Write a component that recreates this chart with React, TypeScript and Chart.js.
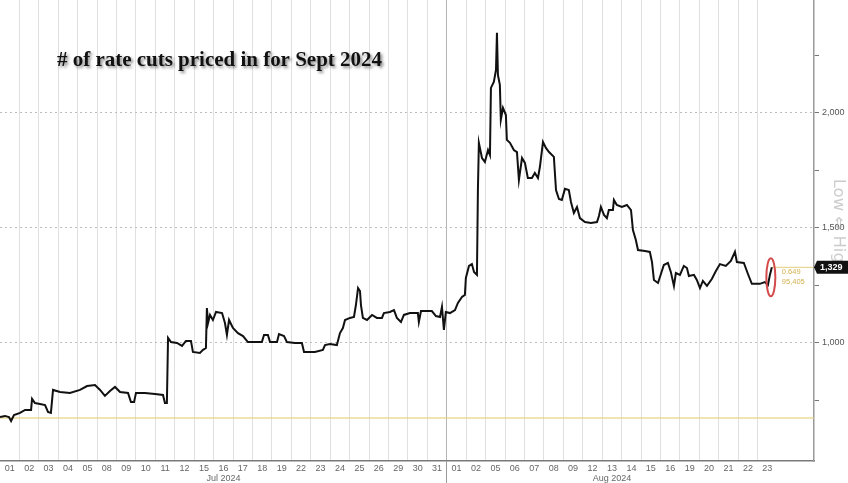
import { useEffect, useRef } from "react";
import { Chart, registerables } from "chart.js";

Chart.register(...registerables);

// ---- data ----
const dayLabels = ["01","02","03","04","05","08","09","10","11","12","15","16","17","18","19","22","23","24","25","26","29","30","31","01","02","05","06","07","08","09","12","13","14","15","16","19","20","21","22","23"];
const monthLabels = ["Jul 2024", "Aug 2024"];
const monthCenters = [11.5, 31.5]; // in trading days
const monthBoundary = 23; // trading day where August starts
const axisEnd = 41.9;
const yTicks = [0.75, 1, 1.25, 1.5, 1.75, 2, 2.25];
const yMajor = [1, 1.5, 2];
const yMin = 0.487;
const yMax = 2.491;

// time in trading days since 1 Jul 2024
const tradingTime = [
  0.00,0.26,0.46,0.57,0.72,1.03,1.29,1.60,1.65,1.80,2.06,2.32,2.47,2.62,2.73,3.09,3.60,4.12,4.48,4.89,5.15,5.40,5.66,5.92,6.18,6.59,6.74,6.90,7.00,7.46,7.98,8.39,8.49,8.59,
  8.65,8.80,9.11,9.37,9.57,9.83,9.93,10.29,10.45,10.60,10.65,10.71,10.81,10.96,11.12,11.43,11.58,11.68,11.79,11.99,12.25,12.51,12.76,13.12,13.48,13.59,13.79,13.90,14.26,14.36,14.62,14.77,15.18,15.54,15.65,16.21,
  16.62,16.73,16.98,17.34,17.50,17.65,17.76,18.01,18.22,18.32,18.43,18.53,18.58,18.68,18.89,19.15,19.40,19.66,19.76,20.07,20.28,20.43,20.64,20.79,21.10,21.51,21.56,21.67,22.23,22.44,22.65,22.75,22.85,22.95,23.16,23.42,23.57,23.78,23.93,
  23.98,24.14,24.29,24.40,24.55,24.60,24.65,24.81,24.96,25.12,25.22,25.27,25.42,25.53,25.58,25.63,25.73,25.78,25.89,26.04,26.09,26.25,26.45,26.61,26.71,26.87,27.02,27.17,27.38,27.53,27.69,27.79,27.95,28.10,28.26,28.51,
  28.62,28.77,28.92,29.08,29.28,29.39,29.54,29.70,29.85,30.11,30.42,30.73,30.83,30.93,31.09,31.24,31.34,31.55,31.60,31.75,32.01,32.27,32.48,32.58,32.73,32.84,33.20,33.45,33.56,33.66,33.87,34.02,34.17,34.38,34.53,34.69,34.79,35.00,
  35.20,35.36,35.46,35.72,35.87,36.03,36.18,36.39,36.64,36.85,37.06,37.36,37.62,37.83,37.93,38.29,38.50,38.70,39.11,39.37,39.53,39.63,39.73
];

// number of rate cuts priced in for Sept 2024
const cutsPriced = [
  0.678,0.683,0.678,0.661,0.687,0.696,0.709,0.709,0.757,0.739,0.735,0.730,0.700,0.696,0.796,0.787,0.783,0.796,0.813,0.817,0.796,0.770,0.791,0.809,0.787,0.783,0.743,0.743,0.783,0.783,0.778,0.774,0.739,0.739,
  1.022,1.004,1.000,0.987,1.009,1.009,0.961,0.957,0.970,0.978,1.152,1.087,1.122,1.100,1.135,1.130,1.087,1.035,1.100,1.065,1.043,1.030,1.004,1.004,1.004,1.035,1.035,1.004,1.004,1.039,1.030,1.004,1.000,1.000,0.961,0.961,
  0.970,0.991,0.996,0.991,1.043,1.065,1.100,1.109,1.113,1.165,1.239,1.226,1.165,1.109,1.100,1.122,1.109,1.109,1.130,1.135,1.143,1.109,1.091,1.122,1.130,1.130,1.091,1.139,1.139,1.117,1.113,1.157,1.057,1.135,1.130,1.143,1.174,1.200,1.209,
  1.283,1.335,1.343,1.309,1.296,1.665,1.870,1.804,1.787,1.839,1.817,2.109,2.135,2.187,2.348,2.165,2.122,1.970,2.022,1.991,1.883,1.870,1.839,1.830,1.709,1.804,1.783,1.717,1.717,1.739,1.717,1.765,1.874,1.848,1.830,1.809,
  1.665,1.626,1.622,1.670,1.665,1.613,1.565,1.591,1.543,1.526,1.522,1.526,1.552,1.591,1.557,1.543,1.578,1.578,1.622,1.600,1.591,1.600,1.578,1.491,1.448,1.404,1.400,1.396,1.352,1.274,1.261,1.300,1.339,1.348,1.309,1.248,1.304,1.296,
  1.335,1.326,1.291,1.296,1.274,1.239,1.270,1.248,1.278,1.313,1.343,1.335,1.357,1.396,1.352,1.348,1.300,1.257,1.257,1.265,1.252,1.296,1.329
];

const lastValue = 1.329;
const lastValueLabel = "1,329";
const referenceLevel = 0.674;
const sideNotes = ["0.649", "95,405"];
const axisNote = "Low \u21D4 High";
const titleText = "# of rate cuts priced in for Sept 2024";

const fmt = (v: number) => v.toFixed(3).replace(".", ",");

const overlayPlugin = {
  id: "overlay",
  afterDraw(chart: any) {
    const { ctx } = chart;
    const xs = chart.scales.x;
    const ys = chart.scales.y;
    const area = chart.chartArea;

    // title
    ctx.save();
    ctx.font = 'bold 20px "Liberation Serif", serif';
    const w = ctx.measureText(titleText).width;
    const size = (20 * 325) / w;
    ctx.font = `bold ${size.toFixed(2)}px "Liberation Serif", serif`;
    ctx.fillStyle = "#111";
    ctx.textBaseline = "alphabetic";
    ctx.textAlign = "left";
    ctx.shadowColor = "rgba(0,0,0,0.45)";
    ctx.shadowBlur = 3;
    ctx.shadowOffsetX = 2;
    ctx.shadowOffsetY = 2;
    ctx.fillText(titleText, 57, 66);
    ctx.restore();

    const lastT = tradingTime[tradingTime.length - 1];
    const px = xs.getPixelForValue(lastT);
    const py = ys.getPixelForValue(lastValue);

    // rotated axis note (drawn beneath the value box)
    ctx.save();
    ctx.translate(838, 226);
    ctx.rotate(Math.PI / 2);
    ctx.font = '16.5px "DejaVu Sans", sans-serif';
    ctx.fillStyle = "rgba(170,170,170,0.6)";
    ctx.textAlign = "center";
    ctx.textBaseline = "middle";
    ctx.fillText(axisNote, 0, 0);
    ctx.restore();

    // red ellipse
    ctx.save();
    ctx.strokeStyle = "#d24a4a";
    ctx.lineWidth = 2;
    ctx.beginPath();
    ctx.ellipse(px - 1, py + 10, 4.5, 19, 0, 0, Math.PI * 2);
    ctx.stroke();
    ctx.restore();

    // yellow notes
    ctx.save();
    ctx.font = '7.5px "Liberation Sans", sans-serif';
    ctx.fillStyle = "#d4b24e";
    ctx.textAlign = "left";
    ctx.textBaseline = "middle";
    ctx.fillText(sideNotes[0], px + 10, py + 5);
    ctx.fillText(sideNotes[1], px + 10, py + 15);
    ctx.restore();

    // last value box
    ctx.save();
    const bx = area.right + 3;
    const bw = 34;
    const bh = 13;
    ctx.fillStyle = "#111";
    ctx.beginPath();
    ctx.moveTo(area.right, py);
    ctx.lineTo(bx, py - bh / 2);
    ctx.lineTo(bx + bw, py - bh / 2);
    ctx.lineTo(bx + bw, py + bh / 2);
    ctx.lineTo(bx, py + bh / 2);
    ctx.closePath();
    ctx.fill();
    ctx.fillStyle = "#fff";
    ctx.font = 'bold 9px "Liberation Sans", sans-serif';
    ctx.textAlign = "left";
    ctx.textBaseline = "middle";
    ctx.fillText(lastValueLabel, bx + 3, py + 0.5);
    ctx.restore();
  },
};

export default function App() {
  const ref = useRef<HTMLCanvasElement | null>(null);

  useEffect(() => {
    if (!ref.current) return;
    const lastT = tradingTime[tradingTime.length - 1];
    const chart = new Chart(ref.current, {
      type: "line",
      data: {
        datasets: [
          {
            data: tradingTime.map((t, i) => ({ x: t, y: cutsPriced[i] })),
            borderColor: "#111",
            borderWidth: 2,
            pointRadius: 0,
            tension: 0,
            order: 0,
          },
          {
            data: [{ x: 0, y: referenceLevel }, { x: axisEnd, y: referenceLevel }],
            borderColor: "rgba(226,208,120,0.75)",
            borderWidth: 1.5,
            pointRadius: 0,
            order: 1,
          },
          {
            data: [{ x: lastT, y: lastValue }, { x: axisEnd, y: lastValue }],
            borderColor: "#e2cf7e",
            borderWidth: 1,
            pointRadius: 0,
            order: 1,
          },
        ],
      },
      options: {
        animation: false,
        responsive: true,
        maintainAspectRatio: false,
        layout: { padding: 0 },
        plugins: { legend: { display: false }, tooltip: { enabled: false } },
        scales: {
          x: {
            type: "linear",
            position: "bottom",
            weight: 0,
            min: 0,
            max: axisEnd,
            afterBuildTicks: (s: any) => {
              const t = [];
              for (let i = 1; i < dayLabels.length; i++) t.push({ value: i });
              s.ticks = t;
            },
            afterFit: (s: any) => {
              s.height = 0;
              s.paddingLeft = 0;
              s.paddingRight = 0;
            },
            ticks: { display: false },
            grid: {
              color: (c: any) => (c.tick && c.tick.value === monthBoundary ? "#b5b5b5" : "#e0e0e0"),
              lineWidth: 1,
              drawTicks: true,
              tickLength: 22,
              tickColor: (c: any) => (c.tick && c.tick.value === monthBoundary ? "#999" : "rgba(0,0,0,0)"),
            },
            border: { display: true, color: "#7a7a7a", width: 1.5 },
          },
          xDay: {
            type: "linear",
            position: "bottom",
            weight: 1,
            min: 0,
            max: axisEnd,
            afterBuildTicks: (s: any) => {
              s.ticks = dayLabels.map((_, i) => ({ value: i + 0.5 }));
            },
            afterFit: (s: any) => {
              s.height = 12;
              s.paddingLeft = 0;
              s.paddingRight = 0;
            },
            ticks: {
              autoSkip: false,
              maxRotation: 0,
              padding: 2,
              color: "#666",
              font: { size: 9, family: '"Liberation Sans", sans-serif' },
              callback: (_v: any, i: number) => dayLabels[i],
            },
            grid: { display: false, drawTicks: false },
            border: { display: false },
          },
          xMonth: {
            type: "linear",
            position: "bottom",
            weight: 2,
            min: 0,
            max: axisEnd,
            afterBuildTicks: (s: any) => {
              s.ticks = monthCenters.map((v) => ({ value: v }));
            },
            afterFit: (s: any) => {
              s.height = 10;
              s.paddingLeft = 0;
              s.paddingRight = 0;
            },
            ticks: {
              autoSkip: false,
              maxRotation: 0,
              padding: 0,
              color: "#666",
              font: { size: 9, family: '"Liberation Sans", sans-serif' },
              callback: (_v: any, i: number) => monthLabels[i],
            },
            grid: { display: false, drawTicks: false },
            border: { display: false },
          },
          y: {
            type: "linear",
            position: "right",
            min: yMin,
            max: yMax,
            afterBuildTicks: (s: any) => {
              s.ticks = yTicks.map((v) => ({ value: v }));
            },
            afterFit: (s: any) => {
              s.width = 34;
              s.paddingTop = 0;
              s.paddingBottom = 0;
            },
            ticks: {
              padding: 3,
              color: "#555",
              font: { size: 9, family: '"Liberation Sans", sans-serif' },
              callback: (v: any) => (yMajor.includes(v) ? fmt(v) : ""),
            },
            grid: {
              color: (c: any) => (c.tick && yMajor.includes(c.tick.value) ? "#bdbdbd" : "rgba(0,0,0,0)"),
              lineWidth: 1,
              tickLength: 5,
              tickColor: "#777",
              tickBorderDash: [],
            },
            border: { display: true, color: "#9a9a9a", width: 1.5, dash: [2, 3] },
          },
        },
      },
      plugins: [overlayPlugin],
    } as any);
    return () => chart.destroy();
  }, []);

  return (
    <div style={{ position: "fixed", left: 0, top: 0, width: 848, height: 483, background: "#fff" }}>
      <canvas ref={ref} />
    </div>
  );
}
